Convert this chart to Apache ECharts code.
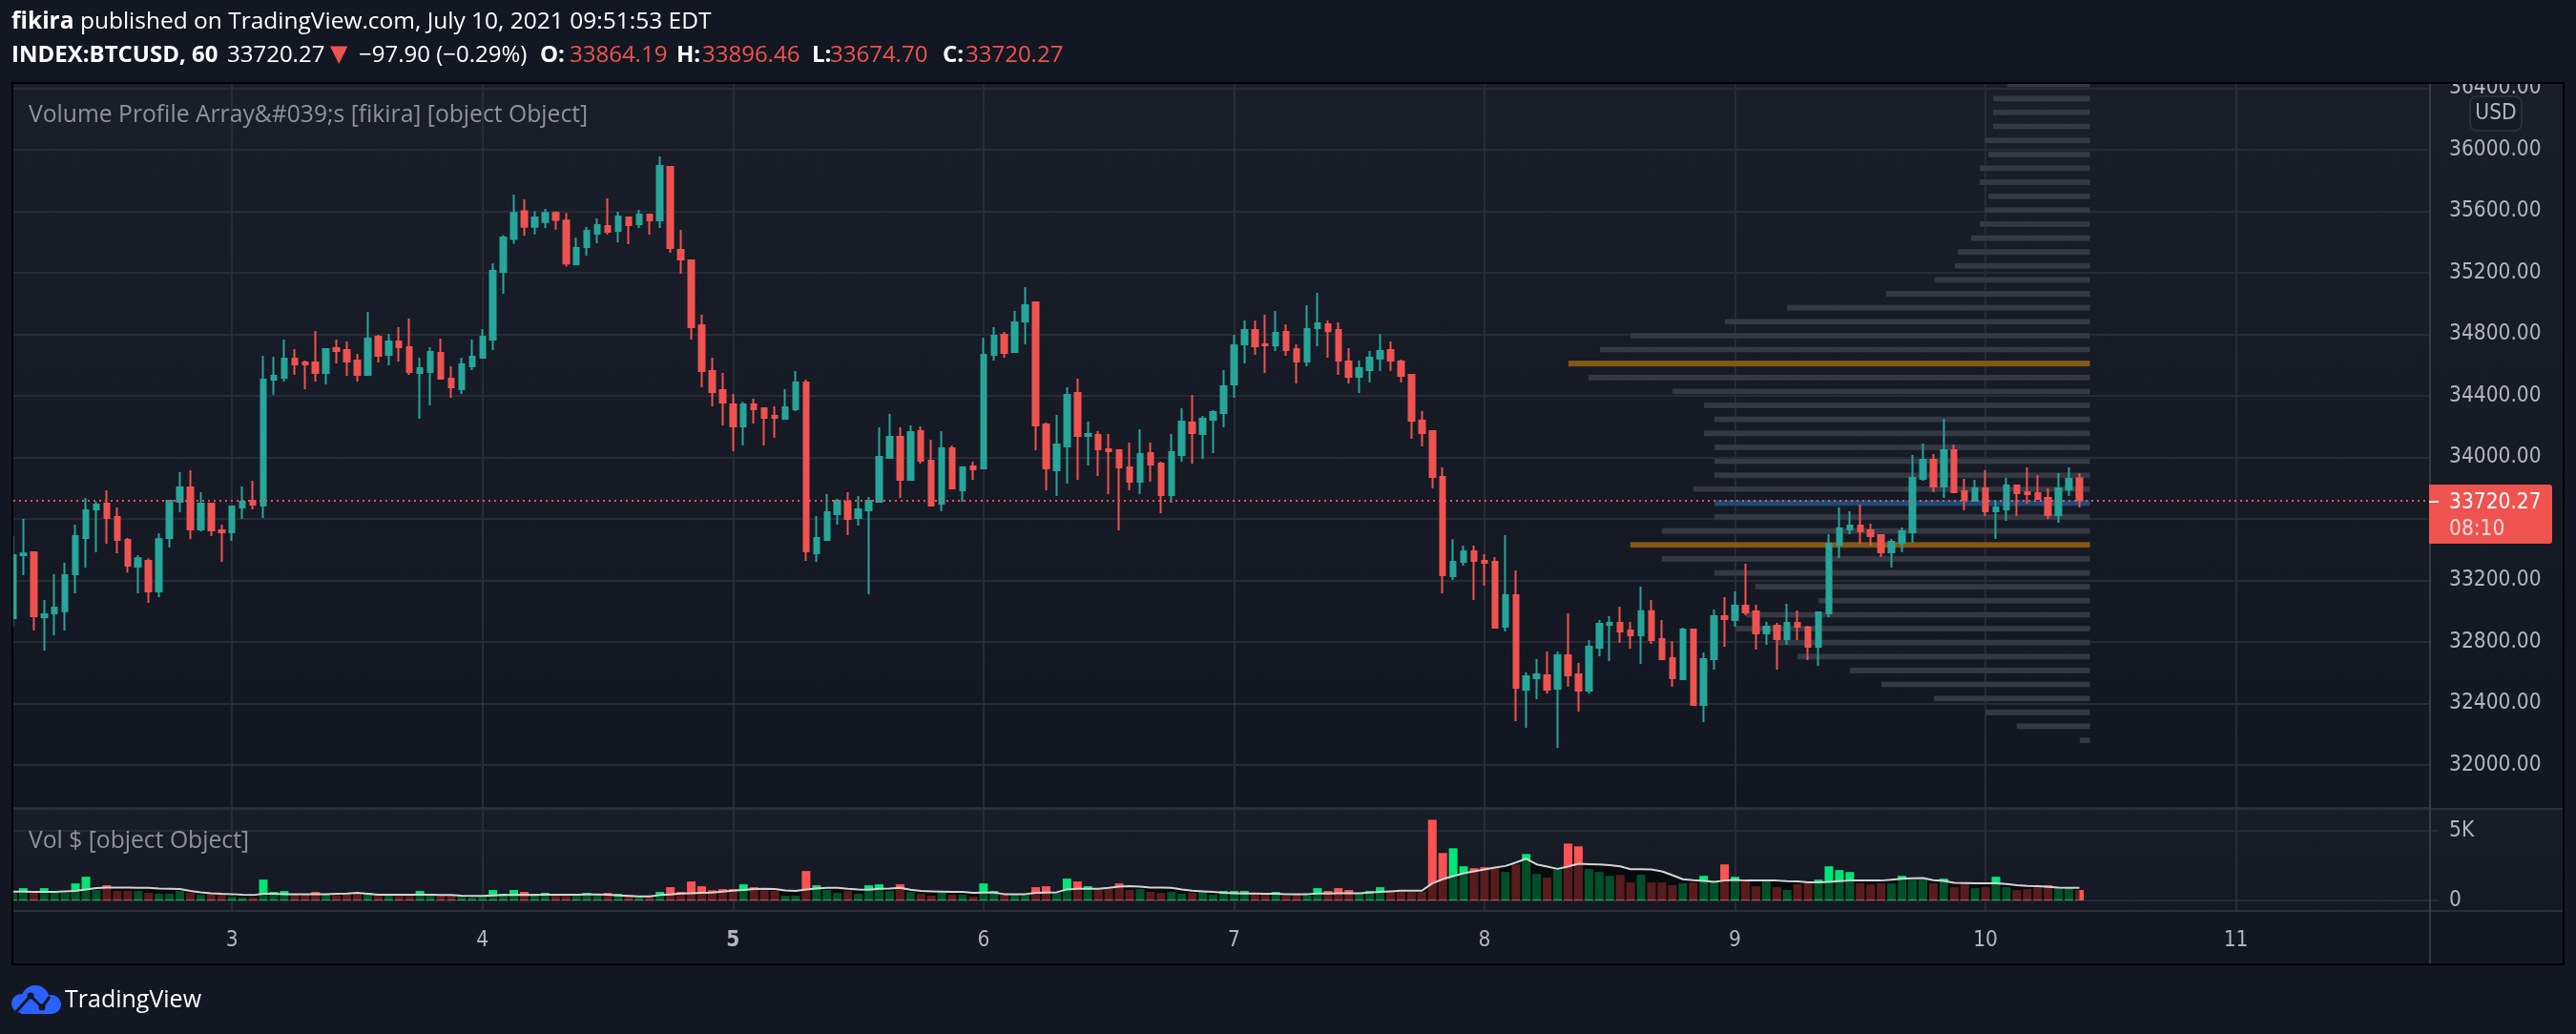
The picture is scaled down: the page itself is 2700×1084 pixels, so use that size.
<!DOCTYPE html>
<html>
<head>
<meta charset="utf-8">
<style>html,body{margin:0;padding:0;background:#131722;overflow:hidden}#c{width:2700px;height:1084px}</style>
<script src="https://cdn.jsdelivr.net/npm/echarts@6/dist/echarts.min.js"></script>
</head>
<body>
<div id="c"></div>
<script>
const opens=[32955,33364,33383,32961,32986,33000,33240,33476,33662,33699,33612,33463,33290,33327,33128,33476,33711,33804,33532,33699,33525,33513,33674,33718,33687,34505,34518,34642,34617,34617,34549,34710,34697,34629,34536,34784,34666,34753,34716,34549,34555,34679,34511,34443,34592,34648,34766,35206,35420,35600,35500,35530,35590,35540,35256,35367,35454,35504,35473,35560,35516,35578,35541,35888,35349,35281,34859,34561,34437,34344,34201,34344,34319,34270,34251,34313,34487,33377,33463,33631,33711,33606,33656,33711,33997,34133,33854,34170,33978,33699,34059,33786,33941,33929,34667,34797,34685,34884,35008,34214,33916,34071,34418,34139,34146,34053,34046,33935,33842,34028,33959,33755,34015,34226,34152,34245,34288,34474,34735,34828,34735,34728,34815,34704,34623,34840,34865,34828,34623,34524,34567,34642,34697,34623,34536,34239,34170,33873,33228,33321,33389,33327,33321,32899,33104,32490,32564,32583,32496,32713,32589,32484,32763,32912,32924,32874,32843,33000,32818,32695,32558,32881,32391,32688,32967,32943,33036,32998,32856,32905,32819,32924,32893,32769,32986,33433,33532,33557,33526,33494,33383,33445,33513,33860,33984,33811,34046,33780,33718,33798,33650,33662,33817,33774,33767,33736,33625,33792,33864.19];
const closes=[33364,33376,32967,32980,33023,33234,33488,33656,33693,33606,33463,33296,33345,33128,33469,33718,33804,33532,33699,33525,33513,33680,33711,33693,34505,34530,34642,34604,34604,34549,34704,34691,34623,34536,34772,34660,34753,34716,34555,34580,34685,34511,34456,34604,34654,34784,35212,35430,35590,35500,35560,35590,35545,35260,35361,35473,35510,35467,35566,35510,35578,35541,35894,35361,35287,34846,34561,34425,34356,34201,34344,34313,34257,34257,34325,34487,33389,33476,33643,33718,33600,33662,33718,34003,34133,33854,34164,33978,33687,34059,33798,33935,33922,34667,34791,34679,34877,34989,34208,33929,34084,34406,34139,34152,34053,34040,33935,33842,34022,33953,33755,34034,34232,34158,34251,34294,34462,34728,34828,34722,34728,34809,34697,34623,34834,34871,34821,34629,34524,34580,34648,34691,34629,34530,34239,34158,33873,33234,33321,33389,33327,33315,32893,33104,32502,32577,32589,32490,32713,32583,32484,32769,32918,32924,32868,32843,33000,32812,32688,32564,32881,32391,32688,32967,32949,33036,32992,32856,32899,32819,32924,32899,32769,32992,33439,33538,33557,33519,33488,33383,33451,33519,33867,33984,33811,34046,33774,33724,33798,33650,33674,33817,33767,33761,33730,33625,33798,33860,33720.27];
const highs=[33488,33600,33385,33073,33240,33315,33563,33736,33711,33786,33674,33476,33364,33345,33507,33724,33904,33916,33773,33705,33563,33687,33811,33848,34660,34654,34766,34704,34629,34822,34710,34766,34753,34673,34946,34797,34803,34846,34902,34648,34716,34772,34592,34648,34766,34834,35260,35445,35709,35677,35600,35615,35600,35590,35429,35498,35553,35684,35597,35560,35609,35578,35957,35894,35479,35287,34927,34648,34549,34412,34362,34381,34319,34332,34443,34561,34505,33618,33761,33730,33773,33749,33742,34195,34282,34195,34208,34201,34115,34170,34077,33935,33972,34778,34846,34815,34952,35107,35014,34226,34276,34456,34512,34233,34170,34152,34046,34096,34183,34096,33972,34152,34319,34406,34270,34307,34567,34797,34890,34890,34927,34952,34865,34735,34989,35070,34890,34877,34710,34629,34691,34803,34753,34635,34542,34301,34170,33935,33469,33426,33426,33370,33352,33494,33265,32602,32688,32738,32738,32986,32664,32812,32943,32967,33029,32930,33159,33073,32943,32806,32893,32887,32732,33011,33091,33129,33308,33042,32930,32924,33048,33005,32905,32998,33501,33674,33650,33693,33569,33501,33470,33544,34015,34090,34022,34251,34084,33860,33854,33916,33718,33867,33817,33935,33885,33798,33898,33935,33896.46];
const lows=[32899,33234,32874,32744,32843,32874,33116,33283,33383,33439,33377,33252,33116,33054,33091,33414,33643,33469,33519,33488,33321,33457,33600,33662,33606,34406,34493,34536,34443,34493,34474,34611,34530,34493,34536,34617,34598,34623,34536,34251,34338,34505,34387,34412,34567,34642,34697,35063,35390,35440,35450,35490,35480,35240,35256,35311,35392,35448,35398,35386,35491,35448,35491,35330,35194,34766,34456,34332,34208,34040,34077,34220,34077,34127,34245,34301,33327,33321,33463,33563,33494,33556,33110,33711,33997,33736,33854,33960,33687,33649,33792,33711,33854,33922,34629,34648,34685,34735,34046,33786,33749,33829,33854,33947,33879,33761,33525,33786,33761,33842,33637,33705,33972,33959,33990,34028,34195,34387,34611,34666,34549,34691,34660,34480,34592,34722,34648,34536,34480,34418,34487,34561,34561,34487,34121,34071,33798,33116,33203,33296,33073,33166,32893,32868,32285,32242,32428,32465,32112,32509,32347,32465,32707,32676,32794,32757,32657,32788,32682,32509,32558,32384,32279,32620,32769,32899,32974,32750,32781,32620,32781,32812,32682,32645,32961,33346,33501,33439,33426,33352,33284,33383,33445,33848,33774,33736,33767,33656,33712,33619,33470,33588,33619,33699,33724,33600,33575,33749,33674.70];
const volumes=[545,885,613,885,545,545,1226,1703,749,1090,681,681,681,545,477,477,681,545,409,477,477,272,204,204,1498,613,681,477,477,613,477,386,477,477,545,409,409,477,477,681,477,409,409,272,204,272,749,477,749,613,477,545,477,409,477,545,477,545,477,409,341,341,613,953,613,1362,1022,726,817,817,1158,953,726,681,341,341,2111,1090,749,545,681,477,1090,1158,681,1158,613,477,341,613,409,409,272,1226,681,477,409,409,953,1022,545,1566,1362,1022,817,817,1226,749,817,613,545,613,477,545,613,409,681,681,681,545,477,613,341,409,477,885,681,885,749,477,681,953,613,613,613,613,5789,3405,3746,2452,2315,2384,2315,2043,2588,3337,1907,1634,2247,4086,3882,2247,2043,1771,1839,1294,1839,1294,1294,1090,1226,1294,1771,1294,2588,1703,1362,1022,1362,953,749,1158,1226,1498,2452,2179,2043,1226,1158,1226,1226,1771,1498,1498,1226,1566,953,1226,885,953,1703,953,749,817,953,1090,885,885,749];
const volumeMA=[636,636,613,613,613,658,681,795,885,931,931,931,908,908,863,840,817,681,590,522,477,454,409,386,477,477,454,454,454,454,454,477,499,545,477,409,409,409,409,409,409,386,386,341,318,318,363,386,386,409,386,409,409,409,409,431,431,409,363,318,295,295,386,431,499,522,545,568,636,704,749,817,840,817,726,681,795,863,908,908,840,795,772,840,863,908,772,681,658,636,613,613,545,568,568,454,454,454,545,568,590,795,840,840,840,908,999,1022,999,931,931,908,795,704,658,613,545,522,499,499,477,477,454,454,454,499,499,522,522,522,568,613,658,704,704,704,1226,1521,1748,1952,2088,2225,2361,2474,2724,2996,2588,2429,2270,2429,2633,2611,2588,2542,2452,2247,2247,2225,2088,1816,1521,1453,1407,1339,1430,1476,1430,1430,1430,1430,1385,1362,1294,1294,1339,1385,1430,1430,1430,1430,1498,1566,1589,1612,1453,1407,1271,1249,1226,1226,1226,1180,1090,1044,1022,976,931,908,908];
const profilePrices=[32161,32252,32342,32433,32524,32615,32705,32796,32887,32977,33068,33159,33249,33340,33431,33522,33612,33703,33794,33884,33975,34066,34156,34247,34338,34429,34519,34610,34701,34791,34882,34973,35063,35154,35245,35336,35426,35517,35608,35698,35789,35880,35970,36061,36152,36243,36333,36424];
const profileVolumes=[11,77,110,164,219,252,307,328,372,361,285,351,394,449,482,449,394,394,416,394,394,394,405,394,405,438,526,547,514,482,383,318,214,163,142,139,125,116,111,107,116,116,107,111,102,102,102,87];
const valueAreaPrices=[33431,34610];
const pocPrice=33703;
const priceTicks=[32000,32400,32800,33200,33600,34000,34400,34800,35200,35600,36000,36400];
const volumeTicks=[0,5000];
const dayLabels=['3','4','5','6','7','8','9','10','11'];
const firstDayIndex=21, hoursPerDay=24, totalSlots=232;
const lastPrice=33720.27;

const categories=[];
for(let i=0;i<totalSlots;i++){
  const d=(i-firstDayIndex)/hoursPerDay;
  categories.push(Number.isInteger(d)&&d>=0&&d<dayLabels.length?dayLabels[d]:'');
}
const isDay=(i)=>categories[i]!=='';
const UP='#26a69a',DOWN='#ef5350',GRID='#272b36',TXT='#b2b5be',BG='#131722';
const FONT='"Open Sans"',AXF='"DejaVu Sans Condensed","DejaVu Sans"',FS=24.7,AXS=22.5;
const candleData=opens.map((o,i)=>[o,closes[i],lows[i],highs[i]]);
const volData=volumes.map((v,i)=>({value:v,itemStyle:{color:closes[i]>=opens[i]?'#00e676':'#ff5252'}}));
const profileData=profilePrices.map((p,i)=>[profileVolumes[i],p]);
const grad=(a,b)=>new echarts.graphic.LinearGradient(0,0,0,1,[{offset:0,color:a},{offset:1,color:b}]);
const headText=(x,text,fill,weight)=>({type:'text',z:60,silent:true,x:x,y:58,style:{text:text,fill:fill,font:(weight||'normal')+' 24px "Open Sans"',verticalAlign:'middle'}});

const chart=echarts.init(document.getElementById('c'),null,{renderer:'canvas',width:2700,height:1084});
const axisX=(grid,extra)=>Object.assign({type:'category',gridIndex:grid,data:categories,boundaryGap:true,
  axisLine:{show:true,lineStyle:{color:GRID,width:2}},
  axisTick:{show:false},axisLabel:{show:false},
  splitLine:{show:true,alignWithLabel:true,interval:(i)=>isDay(i),lineStyle:{color:GRID,width:2}}},extra||{});
chart.setOption({
  animation:false,
  backgroundColor:BG,
  textStyle:{fontFamily:FONT},
  title:[
    {left:12,top:11,padding:0,z:60,text:'{b|fikira} published on TradingView.com, July 10, 2021 09:51:53 EDT',
     textStyle:{color:'#ffffff',fontFamily:FONT,fontSize:24.5,fontWeight:'normal',rich:{b:{fontWeight:'bold',fontSize:24.5,color:'#ffffff',fontFamily:FONT}}}},
    {left:30,top:108,padding:0,z:60,text:'Volume Profile Array&#039;s [fikira] [object Object]',
     textStyle:{color:'#8f929d',fontFamily:FONT,fontSize:FS,fontWeight:'normal'}},
    {left:30,top:869,padding:0,z:60,text:'Vol $ [object Object]',
     textStyle:{color:'#8f929d',fontFamily:FONT,fontSize:FS,fontWeight:'normal'}}
  ],
  grid:[
    {left:8,width:2538,top:88,height:759,show:false},
    {left:8,width:2538,top:848,height:107,show:false}
  ],
  xAxis:[
    axisX(0),
    {type:'value',gridIndex:0,show:false,inverse:true,min:-355.3,max:2182.7,splitLine:{show:false}},
    axisX(1,{
      axisTick:{show:true,alignWithLabel:true,interval:(i)=>isDay(i),length:9,lineStyle:{color:GRID,width:2}},
      axisLabel:{show:true,interval:(i)=>isDay(i),margin:20,fontFamily:AXF,fontSize:AXS,color:TXT,
        formatter:(v)=>v==='5'?'{b|5}':v,rich:{b:{fontWeight:'bold',fontFamily:AXF,fontSize:AXS,color:TXT}}}
    })
  ],
  yAxis:[
    {type:'value',gridIndex:0,position:'right',min:31721,max:36428,scale:true,
     axisLine:{show:false},
     axisTick:{show:true,customValues:priceTicks,length:10,lineStyle:{color:GRID,width:2}},
     axisLabel:{show:true,customValues:priceTicks,margin:21,fontFamily:AXF,fontSize:AXS,color:TXT,padding:[7,0,0,0],formatter:(v)=>v.toFixed(2)},
     splitLine:{show:true,customValues:priceTicks,lineStyle:{color:GRID,width:2}}},
    {type:'value',gridIndex:1,position:'right',min:-753,max:6575,scale:true,
     axisLine:{show:false},
     axisTick:{show:true,customValues:volumeTicks,length:10,lineStyle:{color:GRID,width:2}},
     axisLabel:{show:true,customValues:volumeTicks,margin:21,fontFamily:AXF,fontSize:AXS,color:TXT,padding:[7,0,0,0],formatter:(v)=>v===0?'0':(v/1000)+'K'},
     splitLine:{show:true,customValues:volumeTicks,lineStyle:{color:GRID,width:2}}}
  ],
  series:[
    {type:'custom',name:'Volume Profile',xAxisIndex:1,yAxisIndex:0,z:2,clip:true,silent:true,
     data:profileData,encode:{x:0,y:1},
     renderItem:(params,api)=>{
       const v=api.value(0),p=api.value(1);
       const a=api.coord([0,p]),b=api.coord([v,p]);
       const h=api.size([0,38])[1];
       let color='#353944';
       if(valueAreaPrices.includes(p))color='#855816';
       if(p===pocPrice)color='#1c4a78';
       return {type:'rect',shape:{x:b[0],y:a[1]-h/2,width:a[0]-b[0],height:h},style:{fill:color,stroke:'rgba(0,0,0,0.15)',lineWidth:1}};
     }},
    {type:'line',name:'Last',xAxisIndex:0,yAxisIndex:0,z:3,showSymbol:false,silent:true,
     data:[[198,lastPrice]],lineStyle:{opacity:0},
     markLine:{silent:true,symbol:'none',animation:false,label:{show:false},
       lineStyle:{color:DOWN,type:[2,4],width:2},data:[{yAxis:lastPrice}]}},
    {type:'candlestick',name:'BTCUSD',xAxisIndex:0,yAxisIndex:0,z:4,barWidth:6,silent:true,
     data:candleData,
     itemStyle:{color:UP,color0:DOWN,borderColor:UP,borderColor0:DOWN,borderWidth:2}},
    {type:'bar',name:'Vol',xAxisIndex:2,yAxisIndex:1,z:2,barWidth:9,silent:true,data:volData},
    {type:'line',name:'Vol MA',xAxisIndex:2,yAxisIndex:1,z:3,showSymbol:false,silent:true,
     data:volumeMA,lineStyle:{color:'#d4d4d4',width:2},
     areaStyle:{color:'rgba(0,0,0,0.65)',origin:45,opacity:1}}
  ],
  graphic:[
    {type:'rect',z:-1,silent:true,shape:{x:13,y:88,width:2674,height:759},style:{fill:grad('#1a1e29','#131722')}},
    {type:'rect',z:-1,silent:true,shape:{x:13,y:848,width:2674,height:107},style:{fill:grad('#191d28','#151924')}},
    {type:'rect',z:50,silent:true,shape:{x:0,y:80,width:12,height:940},style:{fill:BG}},
    {type:'rect',z:50,silent:true,shape:{x:2548,y:66,width:150,height:20},style:{fill:BG}},
    {type:'rect',z:51,silent:true,shape:{x:12,y:86,width:2676,height:2},style:{fill:'#000000'}},
    {type:'rect',z:51,silent:true,shape:{x:12,y:1010,width:2676,height:2},style:{fill:'#000000'}},
    {type:'rect',z:51,silent:true,shape:{x:12,y:86,width:2,height:926},style:{fill:'#000000'}},
    {type:'rect',z:51,silent:true,shape:{x:2686,y:86,width:2,height:926},style:{fill:'#000000'}},
    {type:'rect',z:49,silent:true,shape:{x:14,y:847,width:2672,height:2},style:{fill:'#2a2e39'}},
    {type:'rect',z:49,silent:true,shape:{x:14,y:954,width:2672,height:2},style:{fill:'#2a2e39'}},
    {type:'rect',z:49,silent:true,shape:{x:2546,y:88,width:2,height:922},style:{fill:'#363a45'}},
    {type:'rect',z:52,silent:true,shape:{x:2589,y:101,width:54,height:36,r:7},style:{fill:'#171b26',stroke:'#2a2e39',lineWidth:2}},
    {type:'text',z:53,silent:true,x:2616,y:119,style:{text:'USD',fill:TXT,font:'22.5px "DejaVu Sans Condensed","DejaVu Sans"',align:'center',verticalAlign:'middle'}},
    {type:'rect',z:52,silent:true,shape:{x:2546,y:508,width:129,height:62,r:[0,3,3,0]},style:{fill:DOWN}},
    {type:'rect',z:53,silent:true,shape:{x:2546,y:525,width:10,height:2},style:{fill:'#ffffff'}},
    {type:'text',z:53,silent:true,x:2567,y:527,style:{text:'33720.27',fill:'#ffffff',font:'22.5px "DejaVu Sans Condensed","DejaVu Sans"',verticalAlign:'middle'}},
    {type:'text',z:53,silent:true,x:2567,y:555,style:{text:'08:10',fill:'#ffd9d8',font:'22.5px "DejaVu Sans Condensed","DejaVu Sans"',verticalAlign:'middle'}},
    headText(12,'INDEX:BTCUSD, 60','#ffffff','bold'),
    headText(238,'33720.27','#ffffff'),
    {type:'text',z:60,silent:true,x:346,y:58,style:{text:'▼',fill:DOWN,font:'24px "DejaVu Sans"',verticalAlign:'middle'}},
    headText(376,'−97.90 (−0.29%)','#ffffff'),
    headText(566,'O:','#ffffff','bold'),
    headText(597,'33864.19',DOWN),
    headText(709,'H:','#ffffff','bold'),
    headText(736,'33896.46',DOWN),
    headText(851,'L:','#ffffff','bold'),
    headText(870,'33674.70',DOWN),
    headText(988,'C:','#ffffff','bold'),
    headText(1012,'33720.27',DOWN),
    {type:'circle',z:53,silent:true,shape:{cx:37,cy:1048,r:15},style:{fill:'#2962ff'}},
    {type:'circle',z:53,silent:true,shape:{cx:22,cy:1052,r:10},style:{fill:'#2962ff'}},
    {type:'circle',z:53,silent:true,shape:{cx:54,cy:1053,r:10},style:{fill:'#2962ff'}},
    {type:'rect',z:53,silent:true,shape:{x:22,y:1050,width:32,height:13},style:{fill:'#2962ff'}},
    {type:'polyline',z:54,silent:true,shape:{points:[[15,1063],[32,1044],[44,1056],[52,1045]]},style:{stroke:'#131722',fill:'none',lineWidth:3}},
    {type:'circle',z:54,silent:true,shape:{cx:32,cy:1044,r:3.5},style:{fill:'#131722'}},
    {type:'circle',z:54,silent:true,shape:{cx:44,cy:1056,r:3.5},style:{fill:'#131722'}},
    {type:'text',z:54,silent:true,x:68,y:1049,style:{text:'TradingView',fill:'#ffffff',font:'25px "Open Sans"',verticalAlign:'middle'}}
  ]
});
</script>
</body>
</html>
